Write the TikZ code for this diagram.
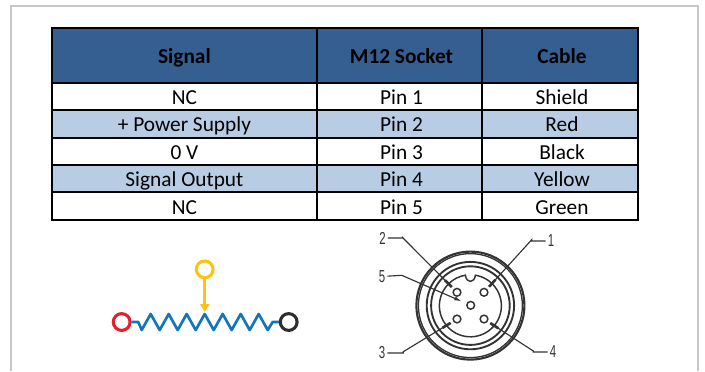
\documentclass[tikz,border=0pt]{standalone}
\usepackage{fontspec}
\usepackage{xcolor}
\usetikzlibrary{arrows.meta,calc}
\setmainfont{Carlito}
\newfontfamily\pinfont[FakeStretch=0.66]{Liberation Sans}
\definecolor{headblue}{HTML}{355F91}
\definecolor{rowblue}{HTML}{B8CCE4}
\definecolor{framegray}{HTML}{C8C8C8}
\definecolor{wireblue}{HTML}{0F75BC}
\definecolor{termred}{HTML}{E4202C}
\definecolor{termblack}{HTML}{2E2E2E}
\definecolor{termyellow}{HTML}{FFC20E}
\definecolor{plugline}{HTML}{333333}
\tikzset{
  cell/.style={draw=black,line width=1.5pt,inner sep=0pt,text height=12pt,text depth=0pt,font=\fontsize{16}{18}\selectfont,text=black},
  headcell/.style={cell,fill=headblue,minimum height=40.9pt,font=\fontsize{16}{18}\selectfont\bfseries},
  term/.style={circle,draw=#1,line width=2.3pt,minimum size=12.6pt,inner sep=0pt},
  wire/.style={draw=wireblue,line width=2pt,line join=round},
  plug/.style={draw=plugline,line width=1.1pt},
  pin/.style={circle,draw=plugline,line width=1.1pt,minimum size=5.8pt,inner sep=0pt},
  leader/.style={draw=plugline,line width=.85pt},
  leadtick/.style={draw=plugline,line width=2pt},
  pinlabel/.style={inner sep=0pt,text=plugline,font=\pinfont\fontsize{13}{14}\selectfont}
}
\begin{document}
\begin{tikzpicture}
  [x=.75pt,y=-.75pt]
  \useasboundingbox (0,0) rectangle (705,371);
  \draw[framegray,line width=1.6pt] (11,371) -- (11,6) -- (698.3,6) -- (698.3,371);

  \node[headcell,minimum width=198.5pt] (hsignal) at (184.4,55.3) {Signal};
  \node[headcell,minimum width=123.8pt] (hsocket) at (399.5,55.3) {\hspace{3pt}M12 Socket};
  \node[headcell,minimum width=117.4pt] (hcable) at (560,55.3) {\hspace{3pt}Cable};
\foreach \sig/\sock/\cab/\shade [count=\i] in {NC/Pin 1/Shield/white,+ Power Supply/Pin 2/Red/rowblue,0 V/Pin 3/Black/white,Signal Output/Pin 4/Yellow/rowblue,NC/Pin 5/Green/white} {
    \node[cell,fill=\shade,minimum width=198.5pt,minimum height=20.55pt] (sig\i) at (184.4,69+27.4*\i) {\sig};
    \node[cell,fill=\shade,minimum width=123.8pt,minimum height=20.55pt] (sock\i) at (399.5,69+27.4*\i) {\hspace{3pt}\sock};
    \node[cell,fill=\shade,minimum width=117.4pt,minimum height=20.55pt] (cab\i) at (560,69+27.4*\i) {\hspace{3pt}\cab};
}

  \node[term=termred] (tred) at (121.7,322) {};
  \node[term=termblack] (tblack) at (288.7,322) {};
  \node[term=termyellow] (tyellow) at (204.7,269.3) {};
  \coordinate (wiper) at (204.7,312);
  \draw[wire] (tred) -- (138.3,322)
  \foreach \k in {0,...,6} { -- (141.7+18*\k,330) -- (150.7+18*\k,314) }
    -- (267.7,330) -- (272.7,322) -- (tblack);
  \draw[termyellow,line width=2pt,-{Triangle[length=6pt,width=6.6pt]}] (tyellow) -- (wiper);

  \coordinate (shell) at (470.4,305.6);
\foreach \r/\w in {54/1.6pt,52/1pt,43.7/1.4pt,39.3/1.4pt}
    \draw[plug,line width=\w] (shell) circle [radius=\r];
  \draw[plug] (475.4,275.2) arc [start angle=279.3,end angle=620.7,radius=31]
    .. controls (466.4,283.5) and (474.4,283.5) .. cycle;

  \node[pin] (p1) at (484,292.3) {};
  \node[pin] (p2) at (457,292.3) {};
  \node[pin] (p3) at (457,319) {};
  \node[pin] (p4) at (484,319) {};
  \node[pin] (p5) at (470.7,305.3) {};

  \node[pinlabel] (l1) at (551,241) {1};
  \node[pinlabel] (l2) at (382.5,238) {2};
  \node[pinlabel] (l3) at (382,353) {3};
  \node[pinlabel] (l4) at (553,352) {4};
  \node[pinlabel] (l5) at (382,276.5) {5};
  \coordinate (e1) at (531.7,239.7);
  \coordinate (e2) at (402.7,237.7);
  \coordinate (e3) at (403.3,351.7);
  \coordinate (e4) at (533.3,351);
  \coordinate (e5) at (401.7,275.3);
\foreach \from/\via/\to in {l1/e1/p1,l2/e2/p2,l3/e3/p3,l4/e4/p4}
    \draw[leader,shorten <=1.5pt,shorten >=5pt] (\from) -- (\via |- \from.center) -- (\via) -- (\to);
  \draw[leader,shorten <=1.5pt,shorten >=4pt,-{Latex[length=5.5pt,width=3pt]}] (l5) -- (e5) -- (p5);
\foreach \to/\via in {p1/e1,p2/e2,p3/e3,p4/e4}
    \draw[leadtick] ($(\to)!5.6pt!(\via)$) -- ($(\to)!12.8pt!(\via)$);
\end{tikzpicture}
\end{document}
